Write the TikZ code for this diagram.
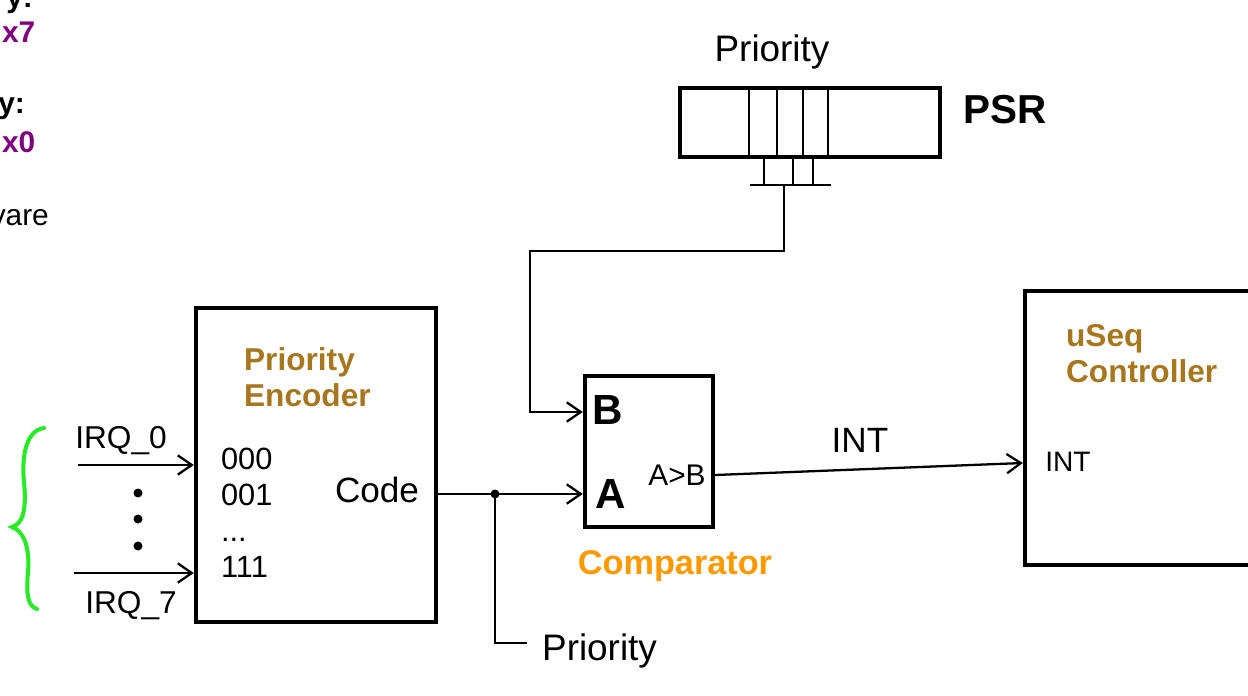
\documentclass[tikz,border=0pt]{standalone}
\usepackage{fontspec}
\setmainfont{Liberation Sans}
\usetikzlibrary{arrows.meta,positioning}
\definecolor{encbrown}{RGB}{168,118,29}
\definecolor{cmporange}{RGB}{255,153,0}
\definecolor{bracegreen}{RGB}{40,235,40}
\definecolor{hexpurple}{RGB}{128,0,128}

\begin{document}
\begin{tikzpicture}[x=0.02cm,y=-0.02cm,>={Straight Barb[length=8pt,width=11pt]},line width=1.3pt]
\tikzstyle{block}=[rectangle,draw,line width=2.5pt,inner sep=0pt]
\tikzstyle{hand}=[inner sep=0pt,font=\fontsize{20}{24}\selectfont]
\tikzstyle{title}=[inner sep=0pt,align=left,anchor=north west,text=encbrown,font=\bfseries\fontsize{18}{20.5}\selectfont]
\tikzstyle{margintxt}=[inner sep=0pt,font=\bfseries\fontsize{17}{20}\selectfont]
\useasboundingbox (0,0) rectangle (1248,696);
\clip (0,0) rectangle (1248,696);

% text cut off at the left edge
\node[margintxt,anchor=base east] (hilabel) at (34,8) {y:};
\node[margintxt,anchor=base west,text=hexpurple] (hival) at (1,43) {x7};
\node[margintxt,anchor=base east] (lolabel) at (26,113) {y:};
\node[margintxt,anchor=base west,text=hexpurple] (loval) at (1,153) {x0};
\node[inner sep=0pt,font=\fontsize{17}{20}\selectfont,anchor=base east] (hwlabel) at (50,225) {vare};

% PSR register
\node[block,minimum width=5.2cm,minimum height=1.38cm] (psr) at (810,122.5) {};
\foreach \bx in {749,777,803,828}
  \draw[line width=1pt] (\bx,88) -- (\bx,157);
\foreach \bx in {764,793,813}
  \draw[line width=1pt] (\bx,157) -- (\bx,185);
\coordinate (busl) at (750,185);
\coordinate (busr) at (831,185);
\coordinate (bus) at (784,185);
\draw (busl) -- (busr);
\node[hand,anchor=base,font=\fontsize{21}{24}\selectfont] (psrprio) at (772,62) {Priority};
\node[inner sep=0pt,anchor=west,font=\bfseries\fontsize{23}{26}\selectfont] (psrname) at (962,110) {PSR};

% priority encoder
\node[block,minimum width=4.8cm,minimum height=6.28cm] (enc) at (316,465) {};
\node[title] (enctitle) at (243,346) {Priority\\Encoder};
\node[inner sep=0pt,align=left,anchor=north west,font=\fontsize{17.5}{20.5}\selectfont] (codes) at (220,447) {000\\001\\...\\111};
\node[hand] (code) at (377,490) {Code};

% IRQ inputs
\coordinate (irq0) at (78,465);
\coordinate (irq7) at (74,573);
\draw[->] (irq0) -- (enc.west |- irq0);
\draw[->] (irq7) -- (enc.west |- irq7);
\node[hand,font=\fontsize{18}{22}\selectfont] (irq0lbl) at (121,441) {IRQ\_0};
\node[hand,font=\fontsize{18}{22}\selectfont] (irq7lbl) at (131,606) {IRQ\_7};
\foreach \dy in {493,519,546}
  \fill (138,\dy) circle (0.09cm);
\draw[bracegreen,line width=2.3pt,line cap=round] (44,428) .. controls (28,430) and (21,452) .. (24,482)
  .. controls (27,512) and (22,524) .. (12,527) .. controls (24,531) and (30,548) .. (28,572)
  .. controls (26,596) and (28,606) .. (37,609);

% comparator
\node[block,minimum width=2.56cm,minimum height=3.02cm] (cmp) at (649,451.5) {};
\node[inner sep=0pt,font=\bfseries\fontsize{24}{28}\selectfont] (bin) at (608,410) {B};
\node[inner sep=0pt,font=\bfseries\fontsize{24}{28}\selectfont] (ain) at (611,494) {A};
\node[hand,font=\fontsize{17}{20}\selectfont] (agtb) at (677,475) {A>B};
\node[inner sep=0pt,text=cmporange,font=\bfseries\fontsize{19.5}{22}\selectfont] (cmpname) at (675,566) {Comparator};

% wires
\coordinate (bpin) at (585,412);
\coordinate (apin) at (585,494);
\coordinate (tapjoin) at (495,494);
\draw[->] (bus) -- (784,251) -| (530,412) -- (cmp.west |- bpin);
\draw[->] (enc.east |- apin) -- (cmp.west |- apin);
\fill (tapjoin) circle (0.09cm);
\node[hand,anchor=base west,font=\fontsize{21}{24}\selectfont] (outprio) at (541,660) {Priority};
\coordinate (prioend) at (527,643);
\draw (tapjoin) |- (prioend);

% uSeq controller
\node[block,minimum width=4.7cm,minimum height=5.48cm] (ctrl) at (1142.5,428) {};
\node[title] (ctrltitle) at (1065,323) {uSeq\\Controller};
\node[hand,font=\fontsize{16}{20}\selectfont] (intin) at (1068,462) {INT};
\coordinate (intpin) at (1025,463);
\draw[->] (cmp.east |- agtb) -- (ctrl.west |- intpin);
\node[hand] (intlbl) at (860,440) {INT};
\end{tikzpicture}
\end{document}
